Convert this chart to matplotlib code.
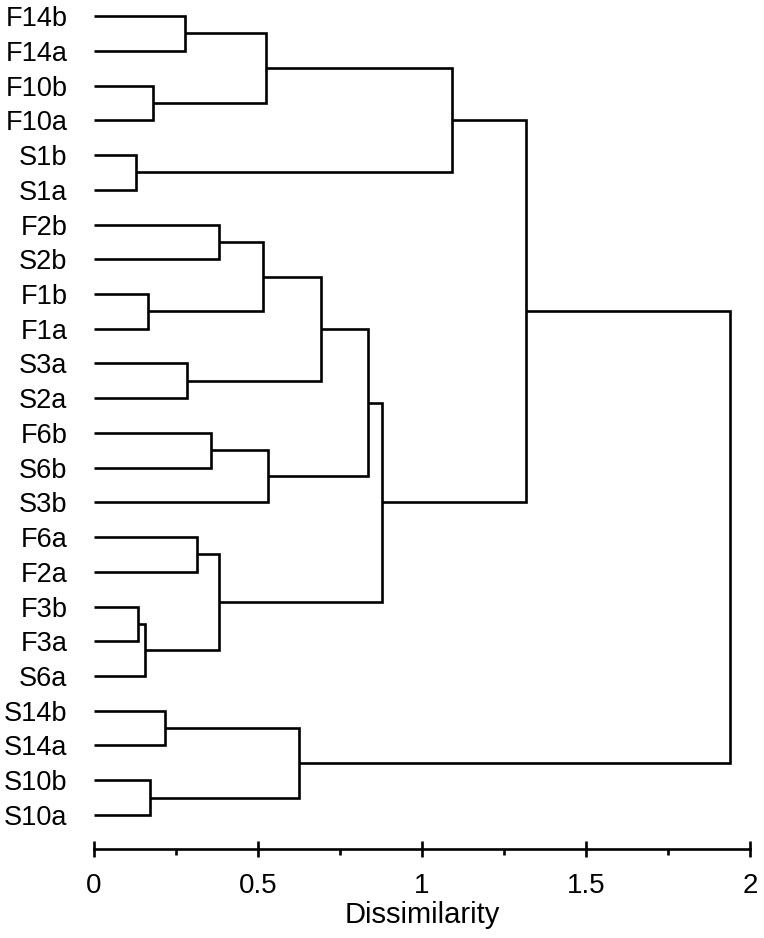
import numpy as np
import matplotlib
matplotlib.use('Agg')
import matplotlib.pyplot as plt

plt.rcParams['font.family'] = ['Liberation Sans', 'DejaVu Sans']

# leaves, top to bottom
leafLabels = ['F14b', 'F14a', 'F10b', 'F10a', 'S1b', 'S1a',
              'F2b', 'S2b', 'F1b', 'F1a', 'S3a', 'S2a',
              'F6b', 'S6b', 'S3b', 'F6a', 'F2a', 'F3b', 'F3a', 'S6a',
              'S14b', 'S14a', 'S10b', 'S10a']

# linkage: node 24+k joins mergeLeft[k] and mergeRight[k] at mergeHeight[k]
mergeLeft = [0, 2, 24, 4, 26, 6, 8, 29, 10, 31, 12, 34, 33, 15, 17, 38, 37, 36, 28, 20, 22, 43, 42]
mergeRight = [1, 3, 25, 5, 27, 7, 9, 30, 11, 32, 13, 14, 35, 16, 18, 19, 39, 40, 41, 21, 23, 44, 45]
mergeHeight = [0.277, 0.179, 0.523, 0.127, 1.090, 0.381, 0.165, 0.514, 0.283, 0.692,
               0.356, 0.530, 0.836, 0.315, 0.133, 0.155, 0.382, 0.879, 1.317,
               0.215, 0.170, 0.626, 1.939]

xMajor = [0, 0.5, 1, 1.5, 2]
xMajorLabels = ['0', '0.5', '1', '1.5', '2']
xMinor = [0.25, 0.75, 1.25, 1.75]

nLeaf = len(leafLabels)
nodeX = {i: 0.0 for i in range(nLeaf)}
nodeY = {i: float(i) for i in range(nLeaf)}

fig = plt.figure(figsize=(7.64, 9.38), dpi=100)
ax = fig.add_axes([94/764, 1 - 849/938, (750 - 94)/764, (849 - 5)/938])

for k in range(len(mergeHeight)):
    a, b, h = mergeLeft[k], mergeRight[k], mergeHeight[k]
    node = nLeaf + k
    nodeX[node] = h
    nodeY[node] = (nodeY[a] + nodeY[b]) / 2.
    ax.plot([nodeX[a], h, h, nodeX[b]], [nodeY[a], nodeY[a], nodeY[b], nodeY[b]],
            color='black', lw=1.9, solid_joinstyle='miter', solid_capstyle='butt')

ax.set_xlim(0, 2)
ax.set_ylim(23.98, -0.32)

ax.set_yticks(range(nLeaf))
ax.set_yticklabels(leafLabels, fontsize=19.5)
ax.tick_params(axis='y', length=0, pad=19)

ax.set_xticks(xMajor)
ax.set_xticklabels(xMajorLabels)
ax.set_xticks(xMinor, minor=True)
ax.tick_params(axis='x', which='major', direction='inout', length=12, width=1.9,
               labelsize=20, pad=11.5)
ax.tick_params(axis='x', which='minor', direction='out', length=4.5, width=1.9)
ax.set_xlabel('Dissimilarity', fontsize=21, labelpad=1.5)

for s in ['top', 'right', 'left']:
    ax.spines[s].set_visible(False)
ax.spines['bottom'].set_linewidth(1.9)
ax.spines['bottom'].set_bounds(0, 2)

fig.savefig('out.png', dpi=100)
